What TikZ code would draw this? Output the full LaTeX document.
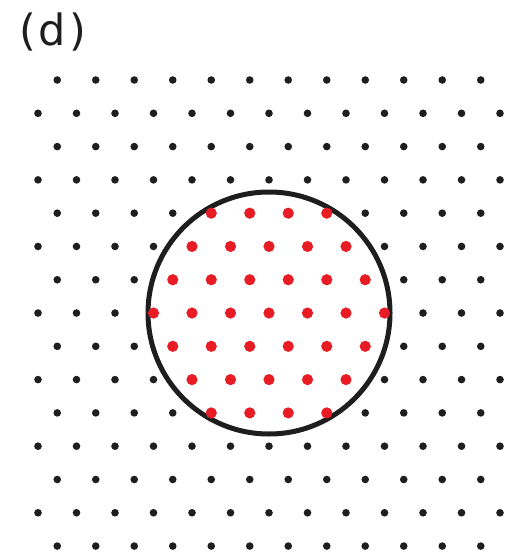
\documentclass[tikz,border=0pt]{standalone}
\usepackage{fontspec}
\newfontfamily\lab{DejaVu Sans}
\definecolor{dotred}{RGB}{232,28,36}
\definecolor{ink}{RGB}{30,30,30}
\tikzset{
  blackdot/.style={fill=ink},
  reddot/.style={fill=dotred},
  ring/.style={draw=ink, line width=5pt}
}
\begin{document}
\begin{tikzpicture}[x=1pt,y=-1pt]
\useasboundingbox (0,0) rectangle (512,556);
\node[anchor=base west, inner sep=0pt, font=\lab\fontsize{43}{50}\selectfont, text=ink] (label) at (19,46) {(\kern3pt d\kern3pt)};
\draw[ring] (269,313) circle[radius=121];
\foreach \k in {0,...,14}{
  \pgfmathsetmacro\yy{80+33.29*\k}
  \pgfmathtruncatemacro\odd{mod(\k,2)}
  \ifnum\odd=1
    \def\xo{38}\def\nn{12}
  \else
    \def\xo{57.25}\def\nn{11}
  \fi
  \foreach \i in {0,...,\nn}{
    \pgfmathsetmacro\xx{\xo+38.5*\i}
    \pgfmathsetmacro\dd{veclen(\xx-269,\yy-313)}
    \ifdim\dd pt<118pt
      \fill[reddot] (\xx,\yy) circle[radius=5.6];
    \else
      \fill[blackdot] (\xx,\yy) circle[radius=3.8];
    \fi
  }
}
\end{tikzpicture}
\end{document}
